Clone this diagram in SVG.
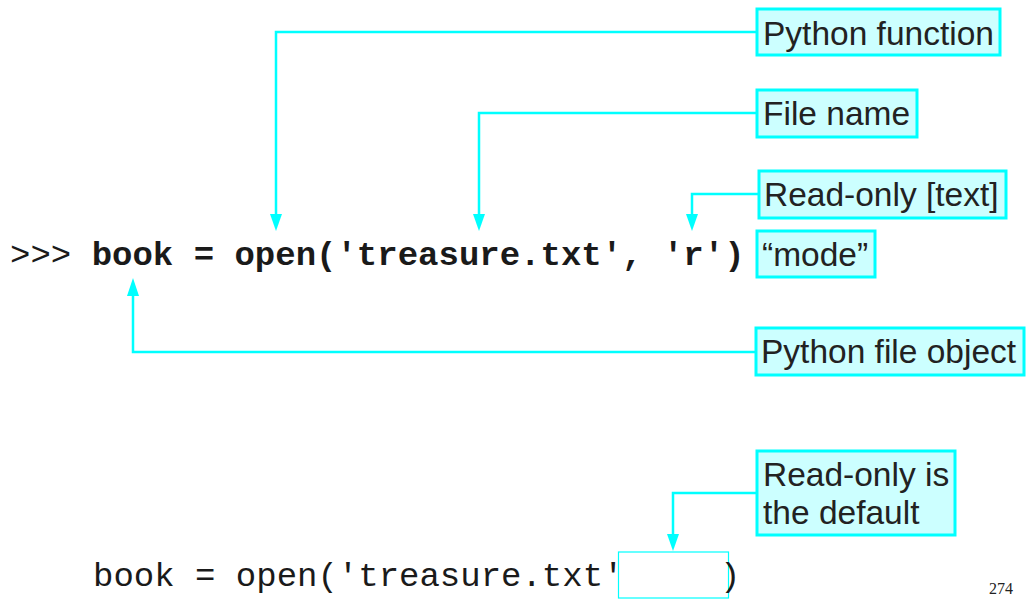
<svg xmlns="http://www.w3.org/2000/svg" width="1026" height="599" viewBox="0 0 1026 599">
<defs>
<style>
.box{fill:#ccffff;stroke:#00ffff;stroke-width:3}
.lbl{font-family:"Liberation Sans",Arial,sans-serif;font-size:33.5px;fill:#222222}
.code{font-family:"Liberation Mono","Courier New",monospace;font-size:34px;fill:#1a1a1a}
.conn{fill:none;stroke:#00ffff;stroke-width:2.5}
.head{fill:#00ffff}
</style>
</defs>
<rect width="1026" height="599" fill="#ffffff"/>
<g id="connectors">
<path class="conn" d="M757,32 H276 V214"/>
<path class="conn" d="M757,113 H479 V214"/>
<path class="conn" d="M759,194 H692 V214"/>
<path class="conn" d="M756,352 H133 V296"/>
<path class="conn" d="M757,493 H673 V534"/>
<path class="head" d="M270,214 L282,214 L276,231 Z"/>
<path class="head" d="M473,214 L485,214 L479,231 Z"/>
<path class="head" d="M686,214 L698,214 L692,231 Z"/>
<path class="head" d="M127,296 L139,296 L133,278 Z"/>
<path class="head" d="M667,534 L679,534 L673,551 Z"/>
</g>
<g id="code1">
<text class="code" x="10" y="265"><tspan>&gt;&gt;&gt; </tspan><tspan font-weight="bold">book = open('treasure.txt', 'r')</tspan></text>
</g>
<g id="code2">
<text class="code" x="93" y="586">book = open('treasure.txt'</text>
<rect x="618.5" y="552" width="110" height="46" fill="none" stroke="#00ffff" stroke-width="1.2"/>
<text class="code" x="720" y="586">)</text>
</g>
<g id="n-python-function">
<rect class="box" x="757" y="9" width="243" height="46"/>
<text class="lbl" x="763" y="45">Python function</text>
</g>
<g id="n-file-name">
<rect class="box" x="757" y="90" width="160" height="47"/>
<text class="lbl" x="763" y="125">File name</text>
</g>
<g id="n-read-only-text">
<rect class="box" x="759" y="171" width="247" height="47"/>
<text class="lbl" x="764" y="206">Read-only [text]</text>
</g>
<g id="n-mode">
<rect class="box" x="757" y="231" width="118" height="46"/>
<text class="lbl" x="762" y="266">“mode”</text>
</g>
<g id="n-python-file-object">
<rect class="box" x="756" y="328" width="268" height="47"/>
<text class="lbl" x="761" y="363">Python file object</text>
</g>
<g id="n-default">
<rect class="box" x="757" y="451" width="198" height="84"/>
<text class="lbl" x="763" y="486">Read-only is</text>
<text class="lbl" x="763" y="524">the default</text>
</g>
<text x="1001" y="594" text-anchor="middle" font-family="'Liberation Serif','Times New Roman',serif" font-size="16px" fill="#222222">274</text>
</svg>
